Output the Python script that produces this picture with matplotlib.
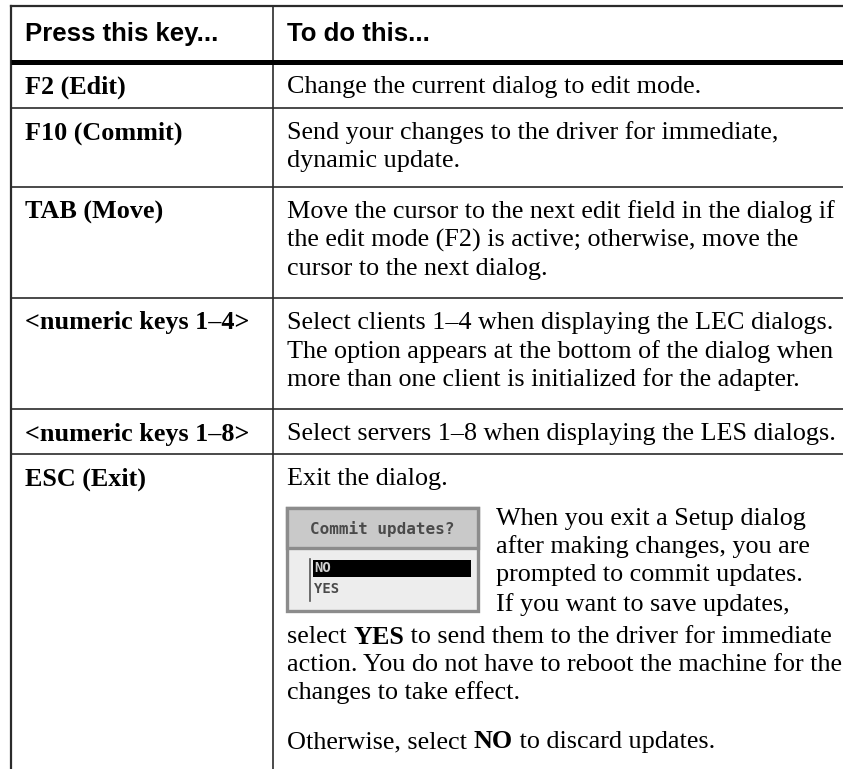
import matplotlib
matplotlib.use("Agg")
import matplotlib.pyplot as plt
from matplotlib.patches import Rectangle

# table contents
header = ["Press this key...", "To do this..."]
keys = ["F2 (Edit)", "F10 (Commit)", "TAB (Move)",
        "<numeric keys 1–4>", "<numeric keys 1–8>", "ESC (Exit)"]
descriptions = [
    ["Change the current dialog to edit mode."],
    ["Send your changes to the driver for immediate,",
     "dynamic update."],
    ["Move the cursor to the next edit field in the dialog if",
     "the edit mode (F2) is active; otherwise, move the",
     "cursor to the next dialog."],
    ["Select clients 1–4 when displaying the LEC dialogs.",
     "The option appears at the bottom of the dialog when",
     "more than one client is initialized for the adapter."],
    ["Select servers 1–8 when displaying the LES dialogs."],
    ["Exit the dialog."],
]
esc_side = ["When you exit a Setup dialog",
            "after making changes, you are",
            "prompted to commit updates.",
            "If you want to save updates,"]
esc_rest = [[("select ", "normal"), ("YES", "bold"),
             (" to send them to the driver for immediate", "normal")],
            [("action. You do not have to reboot the machine for the", "normal")],
            [("changes to take effect.", "normal")]]
esc_last = [("Otherwise, select ", "normal"), ("NO", "bold"),
            (" to discard updates.", "normal")]
dialog_title = "Commit updates?"
dialog_items = ["NO", "YES"]

# layout in pixels
W, H = 843, 769
left, mid, right = 11, 273, 845
top = 6
row_lines = [62, 108, 187, 298, 409, 454]
line_h = 28.5
body_fs = 18.8
serif = "Liberation Serif"

fig = plt.figure(figsize=(W / 100, H / 100), dpi=100)
ax = fig.add_axes([0, 0, 1, 1])
ax.set_xlim(0, W)
ax.set_ylim(H, 0)
ax.axis("off")

lc = "#2b2b2b"
ax.plot([left, right], [top, top], color=lc, lw=1.6)
ax.plot([left, left], [top, H + 2], color=lc, lw=1.6)
ax.plot([mid, mid], [top, H + 2], color=lc, lw=1.2)
for i, y in enumerate(row_lines):
    ax.plot([left, right], [y, y], color="black" if i == 0 else lc,
            lw=3.6 if i == 0 else 1.2, solid_capstyle="butt")

# header
ax.text(25, 34, header[0], fontsize=18.5, fontweight="bold",
        family="Liberation Sans", va="center")
ax.text(287, 34, header[1], fontsize=18.5, fontweight="bold",
        family="Liberation Sans", va="center")

# rows
for i, (k, desc) in enumerate(zip(keys, descriptions)):
    y0 = row_lines[i] + 25
    ax.text(25, y0, k, fontsize=body_fs, fontweight="bold", family=serif, va="center")
    for j, line in enumerate(desc):
        ax.text(287, y0 + j * line_h, line, fontsize=body_fs, family=serif, va="center")

fig.canvas.draw()
renderer = fig.canvas.get_renderer()


def rich_line(x, y, parts):
    for s, w in parts:
        t = ax.text(x, y, s, fontsize=body_fs, family=serif, fontweight=w, va="center")
        bb = t.get_window_extent(renderer)
        x += bb.width


# dialog picture
dx0, dx1, dy0, dy1, dyt = 287, 478, 508, 611, 548
ax.add_patch(Rectangle((dx0, dy0), dx1 - dx0, dy1 - dy0, facecolor="#ededed",
                       edgecolor="#8c8c8c", lw=2.4))
ax.add_patch(Rectangle((dx0, dy0), dx1 - dx0, dyt - dy0, facecolor="#c9c9c9",
                       edgecolor="#8c8c8c", lw=2.4))
ax.text((dx0 + dx1) / 2, 529, dialog_title, fontsize=11.5, family="DejaVu Sans Mono",
        color="#4a4a4a", ha="center", va="center", fontweight="bold")
ax.add_patch(Rectangle((313, 560), 158, 17, facecolor="black", edgecolor="none"))
ax.plot([310, 310], [559, 601], color="#555555", lw=1.2)
ax.text(314, 568.5, dialog_items[0], fontsize=10, family="DejaVu Sans Mono",
        color="#cfcfcf", va="center", fontweight="bold")
ax.text(314, 589, dialog_items[1], fontsize=10, family="DejaVu Sans Mono",
        color="#4a4a4a", va="center", fontweight="bold")

side_y = [519, 547, 575, 605]
for s, y in zip(esc_side, side_y):
    ax.text(496, y, s, fontsize=body_fs, family=serif, va="center")

rest_y = [637, 665, 693]
for parts, y in zip(esc_rest, rest_y):
    rich_line(287, y, parts)
rich_line(287, 742, esc_last)

fig.savefig("out.png", dpi=100, facecolor="white")
